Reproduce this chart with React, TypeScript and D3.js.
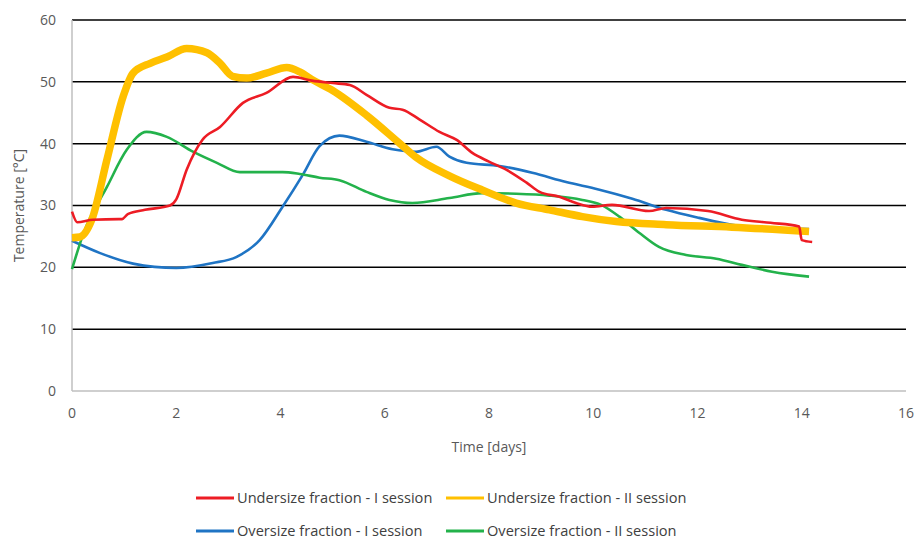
import React from "react";
import * as d3 from "d3";

// Time [days] / Temperature [°C]
const underI: [number, number][] = [
  [0, 29], [0.1, 27.3], [0.4, 27.7], [0.9, 27.8], [0.96, 27.8], [1.07, 28.6], [1.4, 29.3], [1.88, 30],
  [2.0, 31], [2.2, 35.8], [2.5, 40.6], [2.84, 42.7], [3.28, 46.6], [3.73, 48.2], [4.24, 50.8],
  [4.6, 50.2], [5.0, 49.8], [5.33, 49.5], [5.65, 47.9], [6.09, 45.8], [6.34, 45.5], [6.67, 43.9],
  [7.05, 41.9], [7.38, 40.6], [7.68, 38.5], [8.0, 37.1], [8.33, 35.8], [8.72, 33.7], [8.97, 32.2],
  [9.35, 31.4], [9.67, 30.4], [9.98, 29.8], [10.36, 30.1], [11.07, 29.1], [11.4, 29.6], [12.2, 29.1],
  [12.85, 27.7], [13.4, 27.2], [13.95, 26.6], [14.0, 24.4], [14.2, 24.1],
];

const underII: [number, number][] = [
  [0, 24.8], [0.15, 24.9], [0.38, 27.7], [0.67, 37.4], [0.98, 47.6], [1.17, 51.4], [1.5, 53],
  [1.82, 54], [2.2, 55.4], [2.59, 54.7], [2.84, 53], [3.08, 50.9], [3.35, 50.6], [3.73, 51.4],
  [4.12, 52.3], [4.37, 51.6], [4.6, 50.4], [5.0, 48.6], [5.65, 44.6], [6.28, 40.1], [6.6, 37.8],
  [7.24, 34.8], [7.87, 32.5], [8.52, 30.4], [9.16, 29.3], [9.79, 28.2], [10.44, 27.4], [11.4, 26.9],
  [12.66, 26.5], [14.14, 25.8],
];

const overI: [number, number][] = [
  [0, 24.3], [0.54, 22.3], [1.17, 20.6], [2.0, 19.9], [2.7, 20.7], [3.16, 21.7], [3.6, 24.4],
  [4.04, 29.8], [4.43, 35], [4.75, 39.6], [5.13, 41.3], [5.65, 40.3], [6.15, 39.1], [6.6, 38.7],
  [6.99, 39.5], [7.24, 37.9], [7.57, 36.9], [8.2, 36.4], [8.83, 35.3], [9.48, 33.8], [10.1, 32.6],
  [10.75, 31.1], [11.4, 29.3], [12.03, 28], [12.66, 26.9], [13.3, 26.4], [14.14, 26.2],
];

const overII: [number, number][] = [
  [0, 19.7], [0.22, 25.5], [0.67, 33], [1.05, 39], [1.43, 41.9], [1.82, 41.1], [2.32, 38.7],
  [2.78, 36.9], [3.22, 35.4], [4.04, 35.4], [4.37, 35.1], [4.75, 34.5], [5.13, 34.1], [5.65, 32.2],
  [6.09, 30.9], [6.53, 30.4], [7.24, 31.2], [7.87, 32], [8.52, 31.9], [9.16, 31.6], [9.79, 30.9],
  [10.15, 30.1], [10.5, 28.2], [10.88, 25.6], [11.26, 23.3], [11.78, 22], [12.36, 21.4],
  [12.85, 20.4], [13.43, 19.3], [14.14, 18.5],
];

const xTicks = [0, 2, 4, 6, 8, 10, 12, 14, 16];
const yTicks = [0, 10, 20, 30, 40, 50, 60];

const series = [
  { name: "Undersize fraction - I session", data: underI, color: "#ED1C24", width: 2.6 },
  { name: "Undersize fraction - II session", data: underII, color: "#FFC000", width: 7.5 },
  { name: "Oversize fraction - I session", data: overI, color: "#1F74C4", width: 2.6 },
  { name: "Oversize fraction - II session", data: overII, color: "#23B24B", width: 2.6 },
];
// draw order: wide yellow below red
const drawOrder = [2, 3, 1, 0];

const font = "'Open Sans', 'DejaVu Sans', sans-serif";

export default function App() {
  const W = 918, H = 540;
  const x = d3.scaleLinear().domain([0, 16]).range([72, 906]);
  const y = d3.scaleLinear().domain([0, 60]).range([391, 20]);
  const line = d3.line<[number, number]>()
    .x(d => x(d[0]))
    .y(d => y(d[1]))
    .curve(d3.curveMonotoneX);

  const legendPos = [
    { lx: 196, ly: 498 },
    { lx: 446, ly: 498 },
    { lx: 196, ly: 531 },
    { lx: 446, ly: 531 },
  ];

  return (
    <div style={{ position: "absolute", left: 0, top: 0 }}>
      <svg width={W} height={H} style={{ display: "block", background: "#fff", fontFamily: font }}>
        {/* gridlines */}
        {yTicks.filter(t => t > 0).map(t => (
          <line key={t} x1={x(0)} x2={x(16)} y1={y(t)} y2={y(t)} stroke="#000" strokeWidth={1.5} />
        ))}
        {/* axes */}
        <line x1={x(0)} x2={x(16)} y1={y(0)} y2={y(0)} stroke="#BFBFBF" strokeWidth={1.5} />
        <line x1={x(0)} x2={x(0)} y1={y(60)} y2={y(0)} stroke="#BFBFBF" strokeWidth={1.5} />

        {yTicks.map(t => (
          <text key={t} x={56} y={y(t)} dy="0.35em" textAnchor="end" fontSize={14} fill="#595959">{t}</text>
        ))}
        {xTicks.map(t => (
          <text key={t} x={x(t)} y={413} dy="0.35em" textAnchor="middle" fontSize={14} fill="#595959">{t}</text>
        ))}

        <text x={489} y={447} dy="0.35em" textAnchor="middle" fontSize={14} fill="#595959">Time [days]</text>
        <text transform={`translate(19,${y(30)}) rotate(-90)`} dy="0.35em" textAnchor="middle" fontSize={14} fill="#595959">
          Temperature [°C]
        </text>

        {drawOrder.map(i => {
          const s = series[i];
          return (
            <path key={s.name} d={line(s.data) || ""} fill="none" stroke={s.color}
              strokeWidth={s.width} strokeLinejoin="round" strokeLinecap="butt" />
          );
        })}

        {series.map((s, i) => (
          <g key={s.name}>
            <line x1={legendPos[i].lx} x2={legendPos[i].lx + 38} y1={legendPos[i].ly} y2={legendPos[i].ly}
              stroke={s.color} strokeWidth={3} />
            <text x={legendPos[i].lx + 41} y={legendPos[i].ly} dy="0.35em" fontSize={14.6} fill="#404040">{s.name}</text>
          </g>
        ))}
      </svg>
    </div>
  );
}
